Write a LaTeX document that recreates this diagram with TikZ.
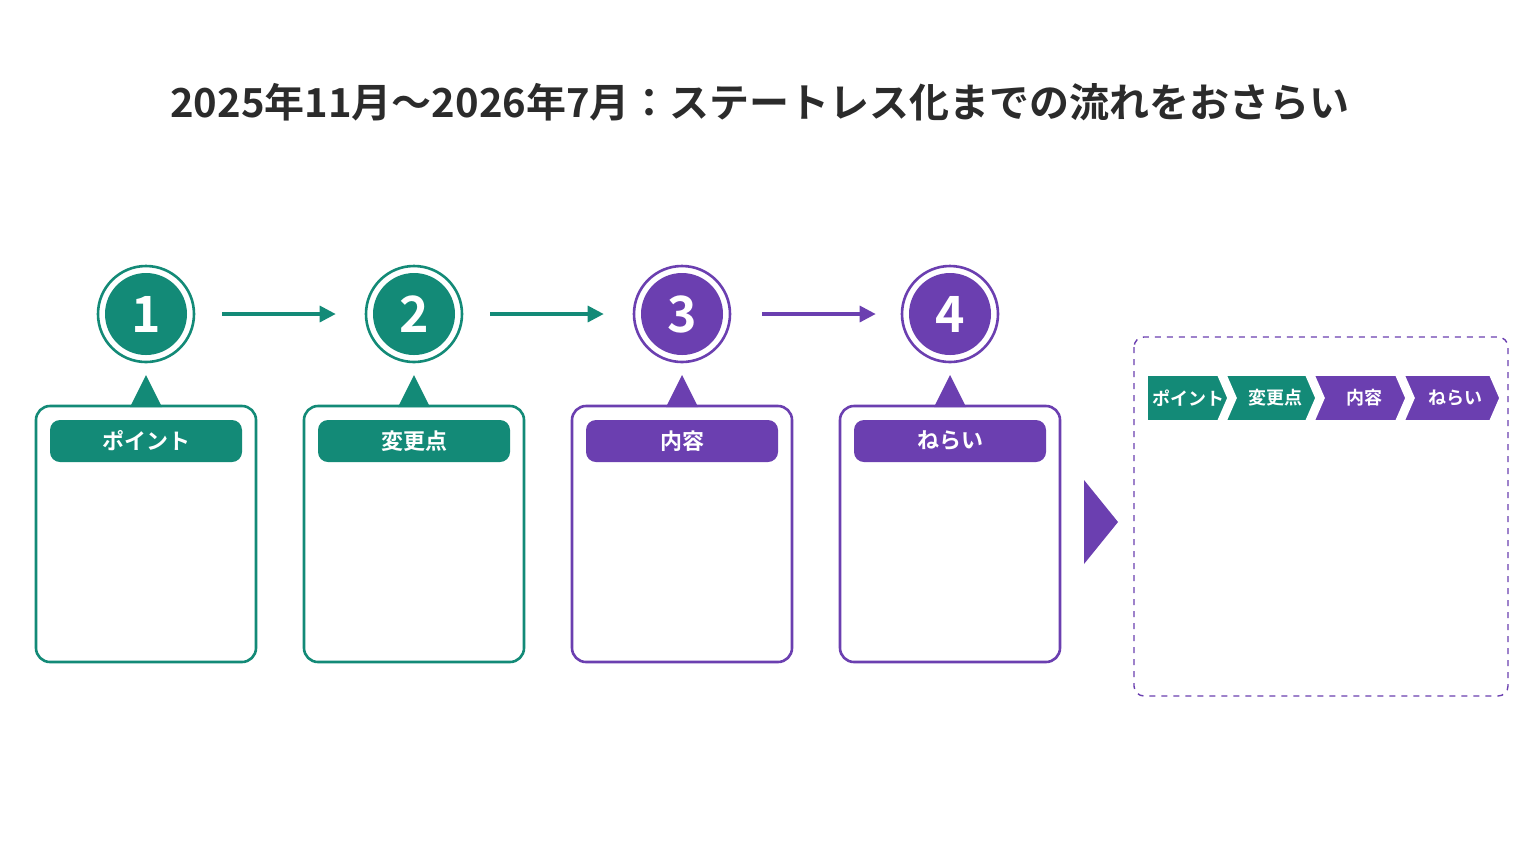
\documentclass[tikz,border=0pt]{standalone}
\usepackage{fontspec}
\setmainfont{Noto Sans CJK JP}
\newfontfamily\jpbold{Noto Sans CJK JP Bold}
\usetikzlibrary{arrows.meta}
\definecolor{tealc}{HTML}{138A77}
\definecolor{purpc}{HTML}{6B3FB0}
\definecolor{titlec}{HTML}{2B2B2B}
\tikzset{
  step/.style = {circle, fill=#1, minimum size=41pt, inner sep=0,
                 text=white, font=\jpbold\fontsize{25}{25}\selectfont},
  ring/.style = {circle, draw=#1, line width=1.3pt, minimum size=48pt, inner sep=0},
  card/.style = {draw=#1, line width=1.3pt, rounded corners=7pt, fill=white},
  pill/.style = {fill=#1, rounded corners=5pt, text=white, minimum width=96pt, minimum height=21pt,
                 inner sep=0, font=\jpbold\fontsize{11}{11}\selectfont},
  flow/.style = {draw=#1, line width=1.6pt, -{Triangle[length=8pt,width=8pt]}},
  chev/.style = {fill=#1, draw=white, line width=0.8pt},
}
\begin{document}
\begin{tikzpicture}[x=0.5pt,y=-0.5pt]
\useasboundingbox[fill=white] (0,0) rectangle (1536,864);

\node[text=titlec, font=\jpbold\fontsize{20}{20}\selectfont] (title) at (760,102)
  {2025年11月〜2026年7月：ステートレス化までの流れをおさらい};

% four steps
\foreach \i/\x/\c/\t in {1/146/tealc/ポイント, 2/414/tealc/変更点, 3/682/purpc/内容, 4/950/purpc/ねらい} {
  \draw[card=\c] (\x-110,406) rectangle (\x+110,662);
  \fill[\c] (\x,375) -- (\x+16,407) -- (\x-16,407) -- cycle;
  \node[pill=\c] (p\i) at (\x,441) {\t};
  \node[ring=\c] (r\i) at (\x,314) {};
  \node[step=\c] (c\i) at (\x,314) {\i};
}

\draw[flow=tealc] ([xshift=13.5pt]r1.east) -- ([xshift=-14.5pt]r2.west);
\draw[flow=tealc] ([xshift=13.5pt]r2.east) -- ([xshift=-14.5pt]r3.west);
\draw[flow=purpc] ([xshift=15.5pt]r3.east) -- ([xshift=-12.5pt]r4.west);

% summary
\fill[purpc] (1084,480) -- (1118,522) -- (1084,564) -- cycle;
\draw[purpc, dashed, line width=0.7pt, rounded corners=5pt] (1134,337) rectangle (1508,696);

\draw[chev=tealc] (1147,375) -- (1218,375) -- (1228,398) -- (1218,421) -- (1147,421) -- cycle;
\draw[chev=tealc] (1226,375) -- (1306,375) -- (1316,398) -- (1306,421) -- (1226,421) -- (1236,398) -- cycle;
\draw[chev=purpc] (1314,375) -- (1396,375) -- (1406,398) -- (1396,421) -- (1314,421) -- (1324,398) -- cycle;
\draw[chev=purpc] (1404,375) -- (1490,375) -- (1500,398) -- (1490,421) -- (1404,421) -- (1414,398) -- cycle;
\foreach \x/\t in {1188/ポイント, 1275/変更点, 1364/内容, 1455/ねらい}
  \node[text=white, font=\jpbold\fontsize{9}{9}\selectfont] at (\x,398) {\t};

\end{tikzpicture}
\end{document}
